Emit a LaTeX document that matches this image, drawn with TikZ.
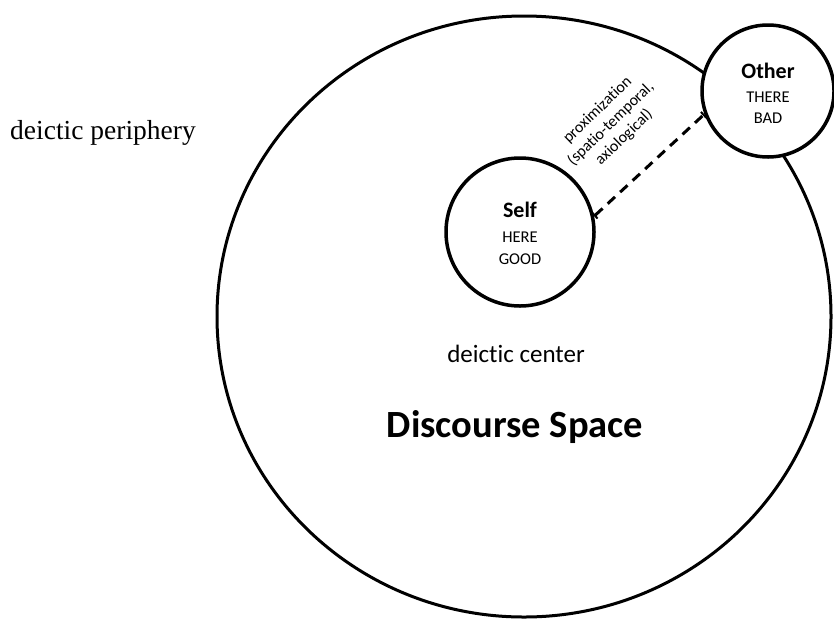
\documentclass[tikz,border=0pt]{standalone}
\usepackage{fontspec}
\setmainfont{Carlito}[Ligatures=NoCommon]
\newfontfamily\timesfont{Liberation Serif}
\usetikzlibrary{arrows.meta}
\begin{document}
\begin{tikzpicture}[x=1pt,y=-1pt,
  ring/.style={circle, draw, line width=3.5pt, fill=white, minimum size=#1, inner sep=0pt},
  title/.style={font=\fontsize{22}{26}\selectfont\bfseries, anchor=base},
  sub/.style={font=\fontsize{16.5}{20}\selectfont, anchor=base},
  prox/.style={dash pattern=on 10pt off 7pt, line width=3pt,
    {Bar[width=8pt,line width=2pt]}-{Bar[width=8pt,line width=2pt]}}]
\useasboundingbox (0,0) rectangle (834,619);
\draw[line width=3pt] (524,316.5) ellipse [x radius=307pt, y radius=300.5pt];
\node[ring=132pt] (other) at (768,91) {};
\node[ring=148pt] (self) at (520,232) {};
\draw[prox] (self.12) -- (other.200);
\node[title] (selft) at (520,217) {Self};
\node[sub] (here) at (520,242) {HERE};
\node[sub] (good) at (520,264) {GOOD};
\node[title] (othert) at (768,78) {Other};
\node[sub] (there) at (768,102) {THERE};
\node[sub] (bad) at (768,123) {BAD};
\node[rotate=44, align=center, font=\fontsize{16}{19}\selectfont] (proxt) at (611,124)
  {proximization\\(spatio-temporal,\\axiological)};
\node[font=\fontsize{25}{30}\selectfont, anchor=base] (center) at (516,362) {deictic center};
\node[font=\fontsize{38.5}{46}\selectfont\bfseries, anchor=base] (space) at (515,437) {Discourse Space};
\node[font=\timesfont\fontsize{27.5}{33}\selectfont, anchor=base west, inner sep=0pt] (periph) at (10,139) {deictic periphery};
\end{tikzpicture}
\end{document}
